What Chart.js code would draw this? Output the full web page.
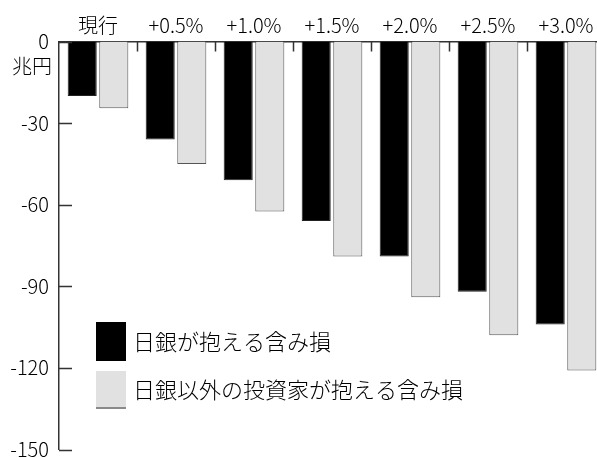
<!DOCTYPE html>
<html lang="ja">
<head>
<meta charset="utf-8">
<script src="https://cdn.jsdelivr.net/npm/chart.js@4.4.1/dist/chart.umd.min.js"></script>
<style>
  html, body { margin: 0; padding: 0; background: #fff; overflow: hidden; }
  #wrap { width: 597px; height: 458px; overflow: hidden; }
</style>
</head>
<body>
<div id="wrap"><canvas id="lossChart" width="612" height="458"></canvas></div>
<script>
// 金利上昇シナリオごとの含み損（兆円）
const categories = ['現行', '+0.5%', '+1.0%', '+1.5%', '+2.0%', '+2.5%', '+3.0%'];
const bojLoss = [-20, -36, -51, -66, -79, -92, -104];
const otherLoss = [-24.5, -45, -62.5, -79, -94, -108, -121];
const yTicks = [0, -30, -60, -90, -120, -150];
const seriesNames = ['日銀が抱える含み損', '日銀以外の投資家が抱える含み損'];
const unitLabel = '兆円';

const FONT = "'Noto Sans CJK JP', 'Noto Sans', sans-serif";
const WEIGHT = 300;
const AXIS_COLOR = '#333';

Chart.defaults.font.family = FONT;
Chart.defaults.font.weight = WEIGHT;
Chart.defaults.color = '#000';

// tick marks point into the plot, so they are drawn by hand
const innerTicks = {
  id: 'innerTicks',
  afterDatasetsDraw(chart) {
    const { ctx, scales: { x, y } } = chart;
    ctx.save();
    ctx.strokeStyle = AXIS_COLOR;
    ctx.lineWidth = 1.5;
    ctx.beginPath();
    y.ticks.forEach(t => {
      const py = Math.round(y.getPixelForValue(t.value)) + 0.5;
      ctx.moveTo(y.right, py);
      ctx.lineTo(y.right + 13, py);
    });
    const half = (x.getPixelForValue(1) - x.getPixelForValue(0)) / 2;
    x.ticks.forEach((t, i) => {
      const px = Math.round(x.getPixelForValue(i) + half) + 0.5;
      ctx.moveTo(px, x.bottom);
      ctx.lineTo(px, x.bottom + 10);
    });
    ctx.stroke();

    // unit under the 0 label
    ctx.fillStyle = '#000';
    ctx.font = WEIGHT + ' 20px ' + FONT;
    ctx.textAlign = 'right';
    ctx.textBaseline = 'middle';
    ctx.fillText(unitLabel, y.right - 7, y.getPixelForValue(0) + 25);
    ctx.restore();
  }
};

// legend sitting inside the plot, lower left
const boxLegend = {
  id: 'boxLegend',
  afterDraw(chart) {
    const { ctx } = chart;
    const rows = [{ top: 322, h: 39 }, { top: 371, h: 38 }];
    ctx.save();
    ctx.font = WEIGHT + ' 22px ' + FONT;
    ctx.textAlign = 'left';
    ctx.textBaseline = 'middle';
    chart.data.datasets.forEach((ds, i) => {
      const r = rows[i];
      ctx.fillStyle = ds.backgroundColor;
      ctx.fillRect(96, r.top, 30, r.h);
      if (i === 1) {
        ctx.fillStyle = '#8a8a8a';
        ctx.fillRect(96, r.top + r.h - 2, 30, 2);
      }
      ctx.fillStyle = '#000';
      ctx.fillText(ds.label, 133, r.top + r.h / 2);
    });
    ctx.restore();
  }
};

new Chart(document.getElementById('lossChart'), {
  type: 'bar',
  data: {
    labels: categories,
    datasets: [
      {
        label: seriesNames[0],
        data: bojLoss,
        backgroundColor: '#000',
        borderColor: '#222',
        borderWidth: 1
      },
      {
        label: seriesNames[1],
        data: otherLoss,
        backgroundColor: '#e1e1e1',
        borderColor: '#555',
        borderWidth: 1
      }
    ]
  },
  options: {
    responsive: false,
    animation: false,
    events: [],
    layout: { padding: { top: 0, left: 0, right: 7, bottom: 8.5 } },
    datasets: {
      bar: { categoryPercentage: 0.81, barPercentage: 0.92 }
    },
    scales: {
      x: {
        position: 'top',
        grid: { display: false, drawTicks: false },
        border: { display: true, color: AXIS_COLOR, width: 1.5 },
        ticks: { padding: 4.5, font: { size: 20 }, color: '#000' },
        afterFit(scale) { scale.height = 41.5; }
      },
      y: {
        min: -150,
        max: 0,
        grid: { display: false, drawTicks: false },
        border: { display: true, color: AXIS_COLOR, width: 1.5 },
        ticks: { padding: 10, font: { size: 20 }, color: '#000' },
        afterBuildTicks(scale) { scale.ticks = yTicks.map(v => ({ value: v })); },
        afterFit(scale) {
          scale.width = 59;
          scale.paddingTop = 0;
          scale.paddingBottom = 0;
        }
      }
    },
    plugins: {
      legend: { display: false },
      tooltip: { enabled: false }
    }
  },
  plugins: [innerTicks, boxLegend]
});
</script>
</body>
</html>
